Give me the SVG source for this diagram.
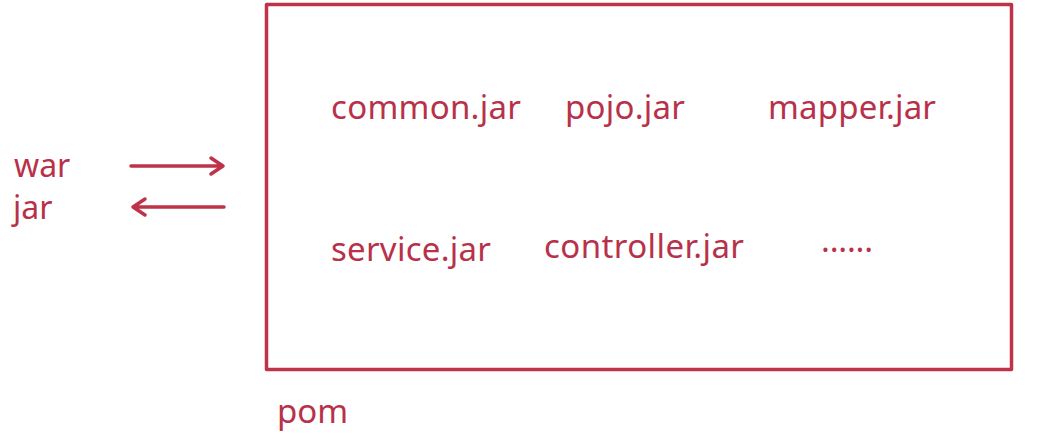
<svg xmlns="http://www.w3.org/2000/svg" width="1043" height="444" viewBox="0 0 1043 444">
<style>
text{font-family:"Noto Sans","Open Sans",sans-serif;fill:#b8314a;font-size:33px}
.ln{stroke:#bf3349;stroke-width:3.5;fill:none;stroke-linecap:round;stroke-linejoin:round}
</style>
<rect width="1043" height="444" fill="#fff"/>
<g id="pom"><rect x="266.5" y="4.5" width="745" height="365" class="ln" stroke-linecap="butt" stroke-linejoin="miter"/><text x="277" y="423">pom</text></g>
<g id="common"><text x="331" y="119" textLength="190">common.jar</text></g>
<g id="pojo"><text x="565" y="119" textLength="120">pojo.jar</text></g>
<g id="mapper"><text x="768" y="119" textLength="168">mapper.jar</text></g>
<g id="service"><text x="331" y="261" textLength="160">service.jar</text></g>
<g id="controller"><text x="544" y="258" textLength="200">controller.jar</text></g>
<g id="more"><text x="821" y="252" textLength="52">......</text></g>
<g id="war"><text x="14" y="177" style="font-size:32px">war</text></g>
<g id="jar"><text x="13" y="219" style="font-size:32px">jar</text></g>
<g id="connectors">
<path class="ln" d="M131 166H223M211 158L223 166L211 174"/>
<path class="ln" d="M224 207H133M145 199L133 207L145 215"/>
</g>
</svg>
